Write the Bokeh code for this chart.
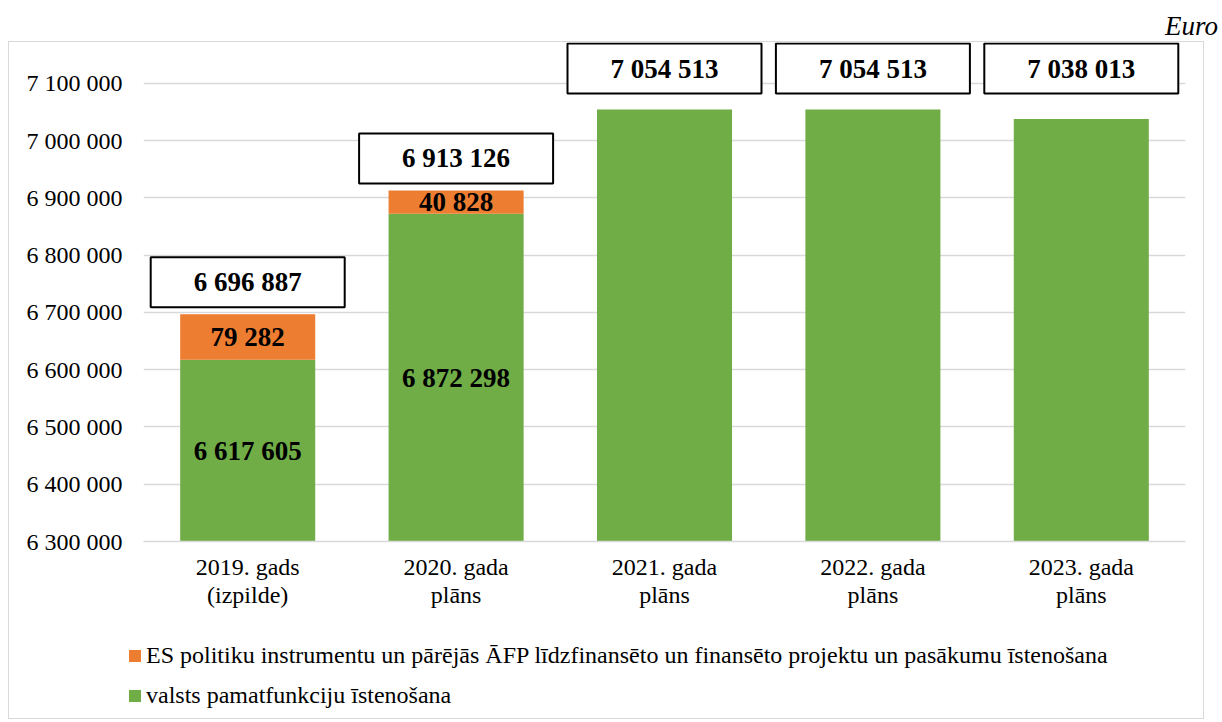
from bokeh.plotting import figure
from bokeh.models import (Range1d, FixedTicker, Label, Legend, LegendItem, Div,
                          ColumnDataSource)
from bokeh.layouts import column
from bokeh.embed import file_html
from bokeh.resources import INLINE

# ---- data ----
categories = ["2019. gads\n(izpilde)", "2020. gada\nplāns", "2021. gada\nplāns",
              "2022. gada\nplāns", "2023. gada\nplāns"]
state_funcs = [6617605, 6872298, 7054513, 7054513, 7038013]     # valsts pamatfunkciju īstenošana
eu_projects = [79282, 40828, 0, 0, 0]                             # ES politiku instrumentu ...
totals = [6696887, 6913126, 7054513, 7054513, 7038013]
y_ticks = [6300000, 6400000, 6500000, 6600000, 6700000, 6800000, 6900000, 7000000, 7100000]
y_tick_labels = ["6 300 000", "6 400 000", "6 500 000", "6 600 000", "6 700 000",
                 "6 800 000", "6 900 000", "7 000 000", "7 100 000"]
series_names = ["ES politiku instrumentu un pārējās ĀFP līdzfinansēto un finansēto projektu un pasākumu īstenošana",
                "valsts pamatfunkciju īstenošana"]
axis_base = 6300000
axis_top = 7171600
label_ceiling = 7000000   # totals above this get their box pinned to the top of the plot

def fmt(v):
    return f"{v:,}".replace(",", " ")

FONT = "Liberation Serif"
GREEN = "#70ad47"
ORANGE = "#ed7d31"
BORDER = "1px solid #d9d9d9"

xs = [i + 0.5 for i in range(len(categories))]
src = ColumnDataSource(dict(
    x=xs,
    base=[axis_base] * len(xs),
    green=state_funcs,
    total=[g + e for g, e in zip(state_funcs, eu_projects)],
))

# ---------------- main chart ----------------
p = figure(width=1196, height=579, output_backend="svg", toolbar_location=None,
           x_range=Range1d(0, len(categories)), y_range=Range1d(axis_base, axis_top),
           min_border_left=134, min_border_right=20, min_border_top=0, min_border_bottom=80,
           margin=(0, 0, 0, 8))
p.styles = {"border": BORDER, "border-bottom": "none"}
p.outline_line_color = None
p.xgrid.grid_line_color = None
p.ygrid.grid_line_color = "#d9d9d9"
p.ygrid.grid_line_width = 1.5

p.yaxis.ticker = FixedTicker(ticks=y_ticks)
p.yaxis.major_label_overrides = {t: l for t, l in zip(y_ticks, y_tick_labels)}
p.yaxis.axis_line_color = None
p.yaxis.major_tick_line_color = None
p.yaxis.minor_tick_line_color = None
p.yaxis.major_tick_out = 0
p.yaxis.major_label_standoff = 21
p.yaxis.major_label_text_font = FONT
p.yaxis.major_label_text_font_size = "24px"
p.yaxis.major_label_text_color = "#000000"

p.xaxis.ticker = FixedTicker(ticks=xs)
p.xaxis.major_label_overrides = {x: c for x, c in zip(xs, categories)}
p.xaxis.axis_line_color = "#d9d9d9"
p.xaxis.axis_line_width = 1.5
p.xaxis.major_tick_line_color = None
p.xaxis.minor_tick_line_color = None
p.xaxis.major_tick_out = 0
p.xaxis.major_label_standoff = 12
p.xaxis.major_label_text_font = FONT
p.xaxis.major_label_text_font_size = "24px"
p.xaxis.major_label_text_color = "#000000"
p.xaxis.major_label_text_line_height = 1.1

p.vbar(x="x", bottom="base", top="green", width=0.648, source=src,
       fill_color=GREEN, line_color=None)
p.vbar(x="x", bottom="green", top="total", width=0.648, source=src,
       fill_color=ORANGE, line_color=None)

LBL = dict(text_align="center", text_font=FONT, text_font_size="27px",
           text_font_style="bold", text_color="#000000")

# inner segment labels (only where the EU part exists)
for x, g, e in zip(xs, state_funcs, eu_projects):
    if e > 0:
        p.add_layout(Label(x=x, y=(axis_base + g) / 2, text=fmt(g), text_baseline="middle", **LBL))
        p.add_layout(Label(x=x, y=g + e / 2, text=fmt(e), text_baseline="middle", **LBL))

# total boxes
BOX = dict(padding=(43, 10), border_line_color="#000000", border_line_width=2,
           background_fill_color="#ffffff")
for x, t in zip(xs, totals):
    if t > label_ceiling:
        p.add_layout(Label(x=x, y=axis_top, y_offset=-1, text=fmt(t), text_baseline="top",
                           **LBL, **BOX))
    else:
        p.add_layout(Label(x=x, y=t, y_offset=7, text=fmt(t), text_baseline="bottom",
                           **LBL, **BOX))

# ---------------- legend strip (same series, bars fall outside its view) ----------------
lf = figure(width=1196, height=99, output_backend="svg", toolbar_location=None,
            x_range=Range1d(-3, -2), y_range=Range1d(0, 1),
            x_axis_location=None, y_axis_location=None, min_border=0,
            margin=(0, 0, 0, 8))
lf.styles = {"border": BORDER, "border-top": "none"}
lf.outline_line_color = None
lf.grid.grid_line_color = None
leg_orange = lf.vbar(x="x", bottom="green", top="total", width=0.648, source=src,
                     fill_color=ORANGE, line_color=None)
leg_green = lf.vbar(x="x", bottom="base", top="green", width=0.648, source=src,
                    fill_color=GREEN, line_color=None)

aligned = True
for fig in (p, lf):
    if "frame_align" in fig.properties():
        fig.frame_align = False
        aligned = False
leg_x = -16 if aligned else 118

legend = Legend(items=[LegendItem(label=series_names[0], renderers=[leg_orange]),
                       LegendItem(label=series_names[1], renderers=[leg_green])],
                location=(leg_x, 10), orientation="vertical",
                padding=0, margin=0, spacing=13, border_line_color=None,
                background_fill_alpha=0, glyph_width=15, glyph_height=15,
                label_standoff=4, label_text_font=FONT, label_text_font_size="24px",
                label_text_color="#000000")
lf.add_layout(legend, "center")

euro = Div(text="Euro", width=1218, height=41, margin=(0, 0, 0, 0),
           styles={"text-align": "right", "font-family": "'Liberation Serif'",
                   "font-style": "italic", "font-size": "27px", "line-height": "52px",
                   "color": "#000000"})

layout = column(euro, p, lf, spacing=0)
open("out.html", "w").write(file_html(layout, INLINE))
